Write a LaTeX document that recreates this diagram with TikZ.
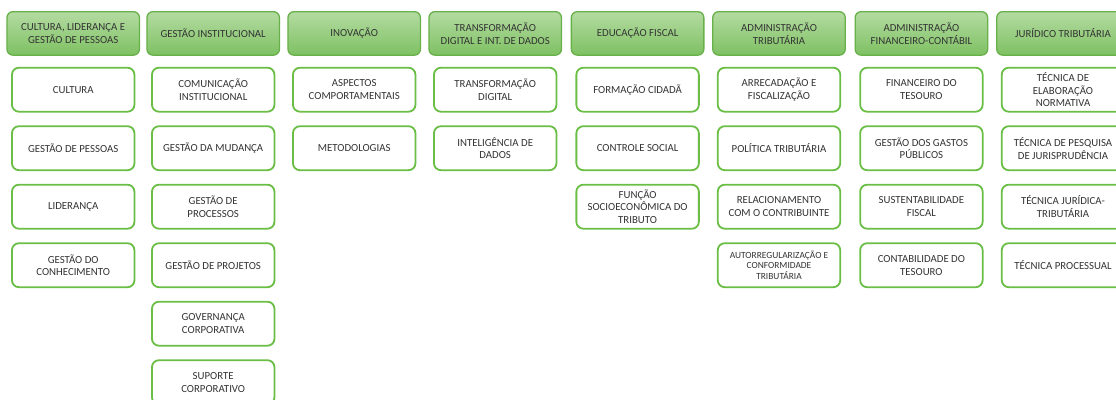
\documentclass[tikz,border=0pt]{standalone}
\usepackage{fontspec}
\setmainfont{Carlito}
\definecolor{txt}{RGB}{52,52,52}
\definecolor{hdrtop}{RGB}{180,219,162}
\definecolor{hdrbot}{RGB}{126,193,98}
\definecolor{hdrline}{RGB}{104,176,74}
\definecolor{subline}{RGB}{106,190,70}
\tikzset{
  hdrbox/.style={draw=hdrline, line width=1.3pt, rounded corners=6pt,
    top color=hdrtop, bottom color=hdrbot, minimum width=132.5pt, minimum height=43.5pt,
    inner sep=0pt, align=center, text=txt, font=\fontsize{10.8}{12.8}\selectfont},
  subbox/.style={draw=subline, line width=1.8pt, rounded corners=7pt, fill=white,
    minimum width=122.5pt, minimum height=44pt, inner sep=0pt, align=center, text=txt,
    font=\fontsize{10.8}{12.8}\selectfont},
  small/.style={font=\fontsize{9.4}{10.8}\selectfont}
}
\begin{document}
\begin{tikzpicture}[x=1pt,y=-1pt]
\useasboundingbox (0,0) rectangle (1116,399);
\clip (0,0) rectangle (1116,399);
% column x centres
\def\ca{73.2}\def\cb{213.2}\def\cc{354.2}\def\cd{495.2}\def\ce{637.6}\def\cf{779.0}\def\cg{921.4}\def\ch{1063.0}
\def\hy{33.4}
\def\ra{89.7}\def\rb{148.2}\def\rc{206.7}\def\rd{265.2}\def\re{323.7}\def\rf{382.2}
% headers
\node[hdrbox] (h1) at (\ca,\hy) {CULTURA, LIDERANÇA E\\GESTÃO DE PESSOAS};
\node[hdrbox] (h2) at (\cb,\hy) {GESTÃO INSTITUCIONAL};
\node[hdrbox] (h3) at (\cc,\hy) {INOVAÇÃO};
\node[hdrbox] (h4) at (\cd,\hy) {TRANSFORMAÇÃO\\DIGITAL E INT. DE DADOS};
\node[hdrbox] (h5) at (\ce,\hy) {EDUCAÇÃO FISCAL};
\node[hdrbox] (h6) at (\cf,\hy) {ADMINISTRAÇÃO\\TRIBUTÁRIA};
\node[hdrbox] (h7) at (\cg,\hy) {ADMINISTRAÇÃO\\FINANCEIRO-CONTÁBIL};
\node[hdrbox] (h8) at (\ch,\hy) {JURÍDICO TRIBUTÁRIA};
% column 1
\node[subbox] (a1) at (\ca,\ra) {CULTURA};
\node[subbox] (a2) at (\ca,\rb) {GESTÃO DE PESSOAS};
\node[subbox] (a3) at (\ca,\rc) {LIDERANÇA};
\node[subbox] (a4) at (\ca,\rd) {GESTÃO DO\\CONHECIMENTO};
% column 2
\node[subbox] (b1) at (\cb,\ra) {COMUNICAÇÃO\\INSTITUCIONAL};
\node[subbox] (b2) at (\cb,\rb) {GESTÃO DA MUDANÇA};
\node[subbox] (b3) at (\cb,\rc) {GESTÃO DE\\PROCESSOS};
\node[subbox] (b4) at (\cb,\rd) {GESTÃO DE PROJETOS};
\node[subbox] (b5) at (\cb,\re) {GOVERNANÇA\\CORPORATIVA};
\node[subbox] (b6) at (\cb,\rf) {SUPORTE\\CORPORATIVO};
% column 3
\node[subbox] (c1) at (\cc,\ra) {ASPECTOS\\COMPORTAMENTAIS};
\node[subbox] (c2) at (\cc,\rb) {METODOLOGIAS};
% column 4
\node[subbox] (d1) at (\cd,\ra) {TRANSFORMAÇÃO\\DIGITAL};
\node[subbox] (d2) at (\cd,\rb) {INTELIGÊNCIA DE\\DADOS};
% column 5
\node[subbox] (e1) at (\ce,\ra) {FORMAÇÃO CIDADÃ};
\node[subbox] (e2) at (\ce,\rb) {CONTROLE SOCIAL};
\node[subbox] (e3) at (\ce,\rc) {FUNÇÃO\\SOCIOECONÔMICA DO\\TRIBUTO};
% column 6
\node[subbox] (f1) at (\cf,\ra) {ARRECADAÇÃO E\\FISCALIZAÇÃO};
\node[subbox] (f2) at (\cf,\rb) {POLÍTICA TRIBUTÁRIA};
\node[subbox] (f3) at (\cf,\rc) {RELACIONAMENTO\\COM O CONTRIBUINTE};
\node[subbox,small] (f4) at (\cf,\rd) {AUTORREGULARIZAÇÃO E\\CONFORMIDADE\\TRIBUTÁRIA};
% column 7
\node[subbox] (g1) at (\cg,\ra) {FINANCEIRO DO\\TESOURO};
\node[subbox] (g2) at (\cg,\rb) {GESTÃO DOS GASTOS\\PÚBLICOS};
\node[subbox] (g3) at (\cg,\rc) {SUSTENTABILIDADE\\FISCAL};
\node[subbox] (g4) at (\cg,\rd) {CONTABILIDADE DO\\TESOURO};
% column 8
\node[subbox] (k1) at (\ch,\ra) {TÉCNICA DE\\ELABORAÇÃO\\NORMATIVA};
\node[subbox] (k2) at (\ch,\rb) {TÉCNICA DE PESQUISA\\DE JURISPRUDÊNCIA};
\node[subbox] (k3) at (\ch,\rc) {TÉCNICA JURÍDICA-\\TRIBUTÁRIA};
\node[subbox] (k4) at (\ch,\rd) {TÉCNICA PROCESSUAL};
\end{tikzpicture}
\end{document}
